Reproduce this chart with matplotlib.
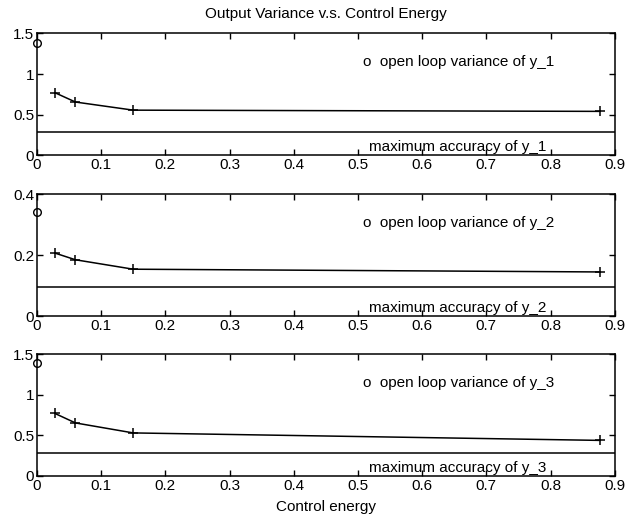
import matplotlib.pyplot as plt

plt.rcParams['font.family'] = ['Liberation Sans', 'DejaVu Sans']

# control energy at the '+' points
energy = [0.028, 0.06, 0.15, 0.877]
var_y1 = [0.77, 0.655, 0.555, 0.54]
var_y2 = [0.207, 0.185, 0.154, 0.145]
var_y3 = [0.77, 0.653, 0.53, 0.438]
open_loop = [1.38, 0.343, 1.385]
max_acc = [0.29, 0.095, 0.28]
ylims = [1.5, 0.4, 1.5]
yticks = [[0, 0.5, 1, 1.5], [0, 0.2, 0.4], [0, 0.5, 1, 1.5]]
names = ['y_1', 'y_2', 'y_3']
xticks = [0, 0.1, 0.2, 0.3, 0.4, 0.5, 0.6, 0.7, 0.8, 0.9]


def fmt(v):
    return '%g' % v


fig = plt.figure(figsize=(6.26, 5.14), dpi=100)
bottoms = [0.698, 0.385, 0.074]
series = [var_y1, var_y2, var_y3]

for i in range(3):
    ax = fig.add_axes([0.059, bottoms[i], 0.923, 0.237])
    ax.plot(energy, series[i], color='black', lw=1.1, marker='+', ms=7, mew=1.1)
    ax.plot([0], [open_loop[i]], marker='o', ms=5.5, mfc='none', mec='black', mew=1.0,
            clip_on=False)
    ax.axhline(max_acc[i], color='black', lw=1.1)
    top = ylims[i]
    ax.text(0.508, top * 0.765, 'o  open loop variance of ' + names[i], fontsize=11,
            va='center')
    ax.text(0.518, top * 0.067, 'maximum accuracy of ' + names[i], fontsize=11,
            va='center')
    ax.set_xlim(0, 0.9)
    ax.set_ylim(0, top)
    ax.set_xticks(xticks)
    ax.set_xticklabels([fmt(v) for v in xticks])
    ax.set_yticks(yticks[i])
    ax.set_yticklabels([fmt(v) for v in yticks[i]])
    ax.tick_params(direction='in', top=True, right=True, length=4, width=1,
                   labelsize=11, pad=2)
    for s in ax.spines.values():
        s.set_linewidth(1.1)
    if i == 0:
        ax.set_title('Output Variance v.s. Control Energy', fontsize=11, pad=11)
    if i == 2:
        ax.set_xlabel('Control energy', fontsize=11, labelpad=5)

fig.savefig('out.png', dpi=100)
